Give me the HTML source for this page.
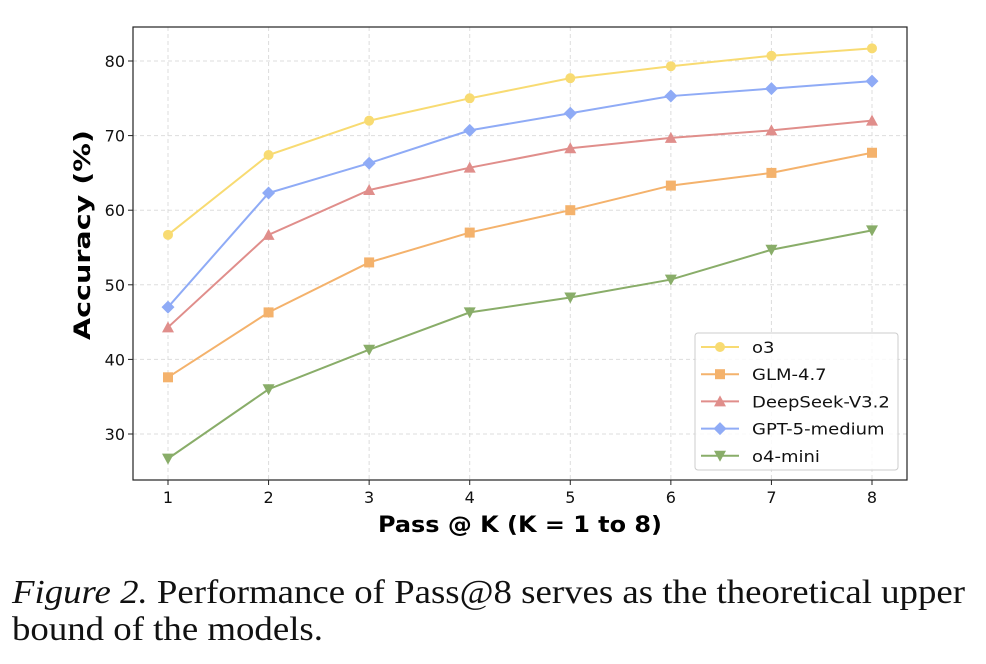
<!DOCTYPE html>
<html><head><meta charset="utf-8"><style>
body{margin:0;background:#fff;width:986px;height:664px;overflow:hidden;position:relative}
svg{display:block}
.cap{position:absolute;left:12px;top:574px;font-family:"Liberation Serif",serif;font-size:34px;line-height:37px;color:#111;white-space:nowrap;transform-origin:0 0;transform:scaleX(1.03)}
</style></head><body>
<svg id="chart" width="986" height="570" xmlns="http://www.w3.org/2000/svg"></svg>
<div class="cap" id="cap"><i>Figure 2.</i> Performance of Pass@8 serves as the theoretical upper<br>bound of the models.</div>
<script>
const categories=[1,2,3,4,5,6,7,8];
const yTicks=[30,40,50,60,70,80];
const seriesNames=["o3","GLM-4.7","DeepSeek-V3.2","GPT-5-medium","o4-mini"];
const o3=[56.7,67.4,72.0,75.0,77.7,79.3,80.7,81.7];
const glm=[37.6,46.3,53.0,57.0,60.0,63.3,65.0,67.7];
const deepseek=[44.3,56.7,62.7,65.7,68.3,69.7,70.7,72.0];
const gpt=[47.0,62.3,66.3,70.7,73.0,75.3,76.3,77.3];
const o4mini=[26.7,36.0,41.3,46.3,48.3,50.7,54.7,57.3];
const colors=["#f8db72","#f4b26c","#e08e8b","#8fabf6","#89ad69"];
const markers=["circle","square","triangle","diamond","tridown"];
const allSeries=[o3,glm,deepseek,gpt,o4mini];

const svg=document.getElementById('chart');
const NS='http://www.w3.org/2000/svg';
const L=133,R=907,T=27,B=480;
const x=v=>168+(v-1)*(872-168)/7;
const y=v=>434-(v-30)*(434-61)/50;
function mk(tag,attrs,parent){const e=document.createElementNS(NS,tag);for(const k in attrs)e.setAttribute(k,attrs[k]);(parent||svg).appendChild(e);return e;}
function marker(type,cx,cy,c,parent){
  if(type==="circle")return mk('circle',{cx,cy,r:5,fill:c},parent);
  if(type==="square")return mk('rect',{x:cx-5,y:cy-5,width:10,height:10,fill:c},parent);
  if(type==="triangle")return mk('polygon',{points:`${cx},${cy-6} ${cx+6},${cy+5} ${cx-6},${cy+5}`,fill:c},parent);
  if(type==="diamond")return mk('polygon',{points:`${cx},${cy-6.5} ${cx+6.5},${cy} ${cx},${cy+6.5} ${cx-6.5},${cy}`,fill:c},parent);
  return mk('polygon',{points:`${cx},${cy+6} ${cx+6},${cy-5} ${cx-6},${cy-5}`,fill:c},parent);
}
categories.forEach(c=>{const g=mk('line',{x1:x(c),x2:x(c),y1:T,y2:B,stroke:'#ddd','stroke-dasharray':'4,3','stroke-width':1});

});
yTicks.forEach(t=>{const g=mk('line',{x1:L,x2:R,y1:y(t),y2:y(t),stroke:'#ddd','stroke-dasharray':'4,3','stroke-width':1});

});
allSeries.forEach((s,i)=>{
  const g=mk('g',{});
  
  
  mk('polyline',{points:s.map((v,j)=>x(categories[j])+','+y(v)).join(' '),fill:'none',stroke:colors[i],'stroke-width':2},g);
  s.forEach((v,j)=>{const m=marker(markers[i],x(categories[j]),y(v),colors[i],g);
    
    });
});
const fr=mk('rect',{x:L,y:T,width:R-L,height:B-T,fill:'none',stroke:'#222','stroke-width':1.2});


categories.forEach(c=>{mk('line',{x1:x(c),x2:x(c),y1:B,y2:B+5,stroke:'#222'});
  const t=mk('text',{x:x(c),y:B+23,'text-anchor':'middle','font-family':'DejaVu Sans, sans-serif','font-size':16,fill:'#111'});t.textContent=c;
  
  });
yTicks.forEach(v=>{mk('line',{x1:L-5,x2:L,y1:y(v),y2:y(v),stroke:'#222'});
  const t=mk('text',{x:L-8,y:y(v)+6,'text-anchor':'end','font-family':'DejaVu Sans, sans-serif','font-size':16,fill:'#111'});t.textContent=v;
  
  });
const xt=mk('text',{x:378,y:532,'font-family':'DejaVu Sans, sans-serif','font-size':22,'font-weight':'bold',fill:'#000',textLength:284,lengthAdjust:'spacingAndGlyphs'});
xt.textContent='Pass @ K (K = 1 to 8)';


const yt=mk('text',{x:0,y:0,transform:'translate(90,340) rotate(-90)','font-family':'DejaVu Sans, sans-serif','font-size':22,'font-weight':'bold',fill:'#000',textLength:210,lengthAdjust:'spacingAndGlyphs'});
yt.textContent='Accuracy (%)';


const lg=mk('g',{});


mk('rect',{x:695,y:333,width:203,height:137,rx:3,fill:'#fff','fill-opacity':0.85,stroke:'#ccc'},lg);
seriesNames.forEach((n,i)=>{const yy=347+i*27.2;
  const e=mk('g',{},lg);
  
  
  mk('line',{x1:701,x2:739,y1:yy,y2:yy,stroke:colors[i],'stroke-width':2},e);
  marker(markers[i],720,yy,colors[i],e);
  const t=mk('text',{x:752,y:yy+6,'font-family':'DejaVu Sans, sans-serif','font-size':16,fill:'#111'},e);t.textContent=n;
  const w=t.getComputedTextLength();
  t.setAttribute('textLength',w*1.2*15/16);
  t.setAttribute('lengthAdjust','spacingAndGlyphs');});
// fit caption width to reference (~955px)
const cap=document.getElementById('cap');
const cw=cap.getBoundingClientRect().width/1.03;
cap.style.transform='scaleX('+(953/cw)+')';
</script>
</body></html>
